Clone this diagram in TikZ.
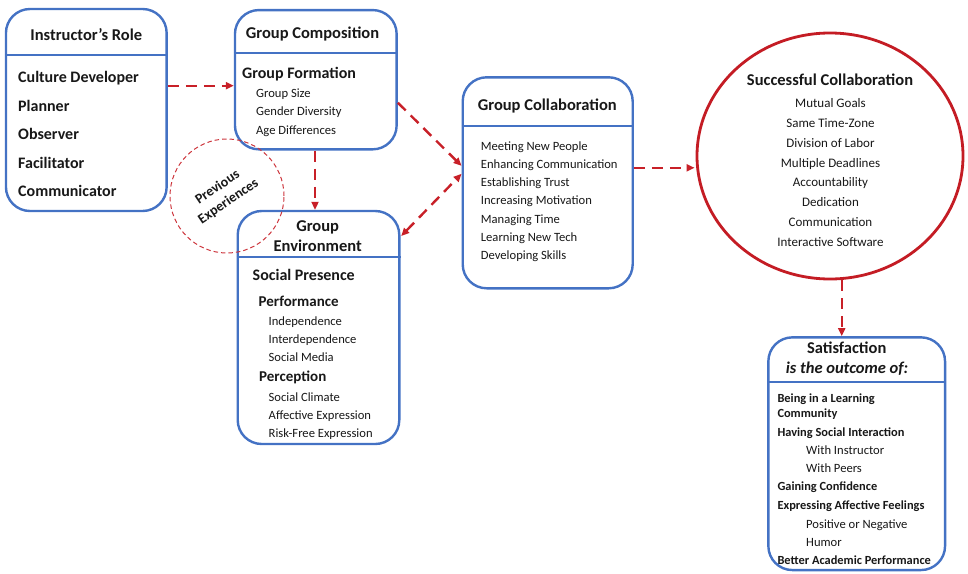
\documentclass[tikz,border=0pt]{standalone}
\usepackage{fontspec}
\setmainfont{Carlito}
\usetikzlibrary{arrows.meta,shapes.geometric}
\definecolor{boxblue}{RGB}{68,114,196}
\definecolor{linkred}{RGB}{200,32,40}
\definecolor{ringred}{RGB}{196,28,36}
\definecolor{ink}{RGB}{24,24,24}
\begin{document}
\begin{tikzpicture}[x=1pt,y=-1pt,
  panel/.style={draw=boxblue, line width=2.4pt, rounded corners=24pt, inner sep=0pt, fill=white},
  rule/.style={draw=boxblue, line width=2.4pt},
  link/.style={draw=linkred, line width=2.4pt, dash pattern=on 11pt off 7pt,
    -{Triangle[length=8pt,width=7pt]}},
  twolink/.style={link, {Triangle[length=8pt,width=7pt]}-{Triangle[length=8pt,width=7pt]}},
  title/.style={font=\fontsize{16.5}{19}\selectfont\bfseries, text=ink, inner sep=0pt, anchor=base},
  head/.style={font=\fontsize{16}{19}\selectfont\bfseries, text=ink, inner sep=0pt, anchor=base west},
  subhead/.style={font=\fontsize{15}{18}\selectfont\bfseries, text=ink, inner sep=0pt, anchor=base west},
  item/.style={font=\fontsize{12.6}{15}\selectfont, text=ink, inner sep=0pt, anchor=base west},
  citem/.style={font=\fontsize{13}{15}\selectfont, text=ink, inner sep=0pt, anchor=base},
  bitem/.style={font=\fontsize{12.4}{15}\selectfont\bfseries, text=ink, inner sep=0pt, anchor=base west},
  ringtext/.style={font=\fontsize{14}{16}\selectfont\bfseries, text=ink, inner sep=0pt, rotate=34}
]
\useasboundingbox (0,0) rectangle (968,573);

% ---- boxes ----
\node[panel, minimum width=160.7pt, minimum height=202pt] (instr) at (86.3,110) {};
\draw[rule] ([yshift=-47pt]instr.north west) -- ([yshift=-47pt]instr.north east);

\node[panel, minimum width=161.7pt, minimum height=139.3pt] (comp) at (315.8,79.7) {};
\draw[rule] ([yshift=-44.3pt]comp.north west) -- ([yshift=-44.3pt]comp.north east);

\node[panel, minimum width=161.6pt, minimum height=233pt] (env) at (318.5,327.5) {};
\draw[rule] ([yshift=-47.3pt]env.north west) -- ([yshift=-47.3pt]env.north east);

\node[panel, minimum width=170pt, minimum height=211pt] (collab) at (547.7,182.8) {};
\draw[rule] ([yshift=-50pt]collab.north west) -- ([yshift=-50pt]collab.north east);

\node[ellipse, draw=ringred, line width=2.8pt, fill=white, inner sep=0pt,
      minimum width=266pt, minimum height=246pt] (succ) at (830,156) {};

\node[panel, minimum width=176.7pt, minimum height=232.7pt] (sat) at (856.7,453.7) {};
\draw[rule] ([yshift=-46pt]sat.north west) -- ([yshift=-46pt]sat.north east);

% ---- previous experiences ring, drawn over the environment box ----
\node[circle, draw=linkred!90, line width=1pt, dash pattern=on 4.5pt off 3pt,
      minimum size=114pt, inner sep=0pt] (prev) at (227,196) {};
\node[ringtext] (prev-1) at (217,186.5) {Previous};
\node[ringtext] (prev-2) at (228.5,201.5) {Experiences};

% ---- Instructor's Role ----
\node[title] (instr-t) at (86.3,40.7) {Instructor’s Role};
\foreach \txt [count=\i] in {Culture Developer, Planner, Observer, Facilitator, Communicator}
  \node[head] (instr-\i) at (18,{82.7+28.5*(\i-1)}) {\txt};

% ---- Group Composition ----
\node[title] (comp-t) at (312.5,38.3) {Group Composition};
\node[head] (comp-h) at (242,78.3) {Group Formation};
\foreach \txt [count=\i] in {Group Size, Gender Diversity, Age Differences}
  \node[item] (comp-\i) at (256,{97.3+18.4*(\i-1)}) {\txt};

% ---- Group Environment ----
\node[title] (env-t1) at (317.7,231.7) {Group};
\node[title] (env-t2) at (317.7,251.7) {Environment};
\node[head] (env-h) at (252.5,280) {Social Presence};
\node[subhead] (env-p) at (258.5,306) {Performance};
\foreach \txt [count=\i] in {Independence, Interdependence, Social Media}
  \node[item] (env-p\i) at (268.5,{325+18.4*(\i-1)}) {\txt};
\node[subhead] (env-q) at (259,381.7) {Perception};
\foreach \txt [count=\i] in {Social Climate, Affective Expression, Risk-Free Expression}
  \node[item] (env-q\i) at (268.5,{401+18.4*(\i-1)}) {\txt};

% ---- Group Collaboration ----
\node[title] (collab-t) at (547.3,110) {Group Collaboration};
\foreach \txt [count=\i] in {Meeting New People, Enhancing Communication, Establishing Trust,
    Increasing Motivation, Managing Time, Learning New Tech, Developing Skills}
  \node[item] (collab-\i) at (480.7,{150+18.33*(\i-1)}) {\txt};

% ---- Successful Collaboration ----
\node[title] (succ-t) at (830,85) {Successful Collaboration};
\foreach \txt [count=\i] in {Mutual Goals, Same Time-Zone, Division of Labor, Multiple Deadlines,
    Accountability, Dedication, Communication, Interactive Software}
  \node[citem] (succ-\i) at (830.5,{107.3+19.92*(\i-1)}) {\txt};

% ---- Satisfaction ----
\node[title] (sat-t1) at (846.7,353.3) {Satisfaction};
\node[title, font=\fontsize{16.5}{19}\selectfont\bfseries\itshape] (sat-t2) at (847,373.3) {is the outcome of:};
\node[bitem] (sat-1) at (777.3,402.7) {Being in a Learning};
\node[bitem] (sat-2) at (777.3,417.3) {Community};
\node[bitem] (sat-3) at (777.3,436) {Having Social Interaction};
\node[item] (sat-4) at (806,454) {With Instructor};
\node[item] (sat-5) at (806,472.7) {With Peers};
\node[bitem] (sat-6) at (777.3,490.7) {Gaining Confidence};
\node[bitem] (sat-7) at (777.3,509.3) {Expressing Affective Feelings};
\node[item] (sat-8) at (806,528.3) {Positive or Negative};
\node[item] (sat-9) at (806,546) {Humor};
\node[bitem] (sat-10) at (777.3,564) {Better Academic Performance};

% ---- connectors ----
\coordinate (instr-out) at ([yshift=24.3pt]instr.east);
\draw[link] (instr-out) -- (instr-out -| comp.west);

\coordinate (comp-down) at ([xshift=-0.8pt]comp.south);
\draw[link] (comp-down) -- (comp-down |- env.north);

\draw[link] ([yshift=-23pt]comp.east) -- ([yshift=17pt]collab.west);
\draw[twolink] ([xshift=0.7pt,yshift=91.5pt]env.east) -- ([yshift=9pt]collab.west);

\coordinate (collab-out) at ([yshift=15pt]collab.east);
\draw[link] (collab-out) -- ([xshift=-1pt]collab-out -| succ.west);

\coordinate (sat-in) at ([xshift=-15pt]sat.north);
\draw[link] (sat-in |- succ.south) -- (sat-in);
\end{tikzpicture}
\end{document}
